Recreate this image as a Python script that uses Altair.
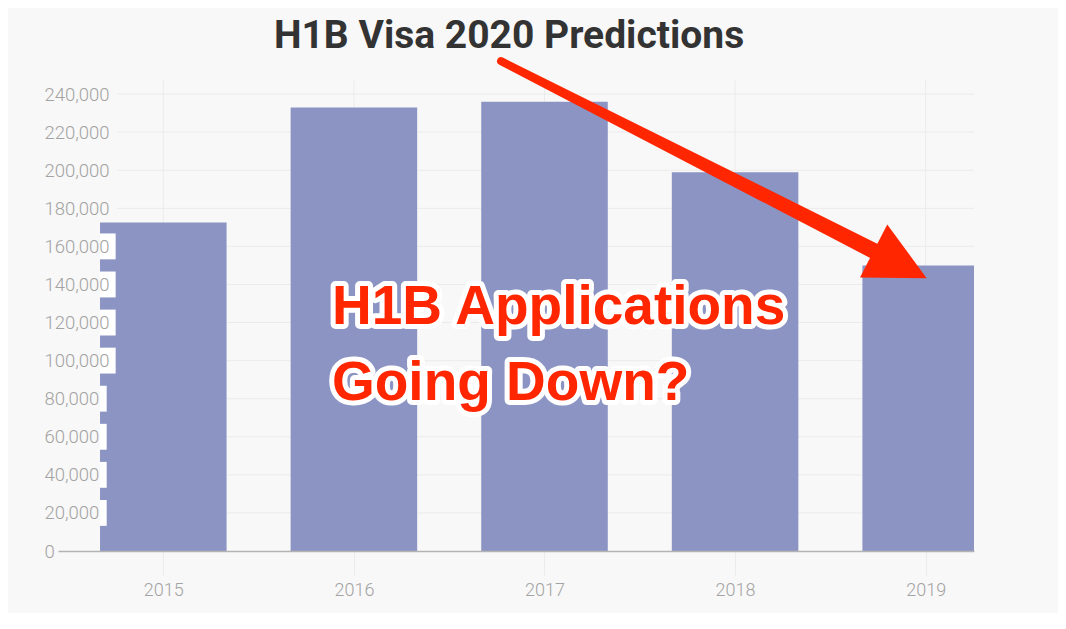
import altair as alt
import pandas as pd

# ---- data ----
years = [2015, 2016, 2017, 2018, 2019]
applications = [172500, 233000, 236000, 199000, 150000]
y_ticks = [0, 20000, 40000, 60000, 80000, 100000, 120000, 140000,
           160000, 180000, 200000, 220000, 240000]
boxed_ticks = [20000, 40000, 60000, 80000, 100000, 120000, 140000, 160000]
title_text = "H1B Visa 2020 Predictions"
note_lines = ["H1B Applications", "Going Down?"]
note_values = [119200, 79300]

# ---- styling / layout ----
X_MIN, X_MAX = 2014.4475, 2019.2535
Y_MAX = 247400
HALF = 0.332
BAR = "#8c94c3"
RED = "#ff2600"
GRID = "#ebebeb"
LABEL = "#a3a3a3"

xs = alt.Scale(domain=[X_MIN, X_MAX], nice=False, zero=False)
ys = alt.Scale(domain=[0, Y_MAX], nice=False, zero=False)

x_axis = alt.Axis(
    values=years, format="d", grid=False, title=None,
    tickSize=24, tickColor=GRID, tickWidth=1,
    domainColor="#b3b3b3", domainWidth=1.5,
    labelPadding=6, labelFont="Roboto", labelFontWeight=300,
    labelFontSize=18, labelColor=LABEL, labelFlush=False,
    labelOverlap=False, zindex=1)
y_axis = alt.Axis(
    values=y_ticks, format=",d", grid=False, title=None,
    ticks=False, tickSize=0, domain=False,
    labelAlign="left", labelBaseline="middle", labelPadding=14,
    labelFont="Roboto", labelFontWeight=300, labelFontSize=18.5,
    labelColor=LABEL, labelOverlap=False, zindex=1)


def X(field):
    return alt.X(field, scale=xs, axis=x_axis)


def Y(field):
    return alt.Y(field, scale=ys, axis=y_axis)


# vertical grid lines
vgrid = alt.Chart(pd.DataFrame({"year": years, "lo": 0, "hi": Y_MAX})).mark_rule(
    color=GRID, strokeWidth=1
).encode(x=X("year:Q"), y=Y("lo:Q"), y2="hi:Q")

# horizontal grid lines (start right of the labels)
hgrid = alt.Chart(pd.DataFrame({"v": y_ticks[1:]})).transform_calculate(
    gx0="2014.757", gx1=str(X_MAX)
).mark_rule(color=GRID, strokeWidth=1).encode(
    y=Y("v:Q"), x=X("gx0:Q"), x2="gx1:Q"
)

bars = alt.Chart(pd.DataFrame({"year": years, "apps": applications})).transform_calculate(
    x0=f"datum.year - {HALF}", x1=f"datum.year + {HALF}", base="0"
).mark_bar(color=BAR, clip=True).encode(
    x=X("x0:Q"), x2="x1:Q", y=Y("apps:Q"), y2="base:Q"
)

# white boxes behind the y labels where they sit on the first bar
boxes = alt.Chart(pd.DataFrame({"v": boxed_ticks})).transform_calculate(
    xl=f"{years[0]} - {HALF}",
    xr="datum.v < 100000 ? 2014.703 : 2014.75",
    y0="datum.v - 6800", y1="datum.v + 6800",
).mark_rect(color="white").encode(
    x=X("xl:Q"), x2="xr:Q", y=Y("y0:Q"), y2="y1:Q"
)

# arrow
shaft = alt.Chart(pd.DataFrame({
    "x": [2016.772, 2018.735], "y": [257300, 157300], "w": [8, 16]
})).mark_trail(color=RED, clip=False).encode(
    x=X("x:Q"), y=Y("y:Q"),
    size=alt.Size("w:Q", scale=None, legend=None),
)
head = alt.Chart(pd.DataFrame({"x": [2018.866], "y": [150470]})).mark_point(
    shape="M-1,-1L1,0L-1,1Z", size=3552, filled=True, color=RED,
    opacity=1, angle=27.2, strokeWidth=0, clip=False
).encode(x=X("x:Q"), y=Y("y:Q"))

note_df = pd.DataFrame({"x": [2015.885] * 2, "y": note_values, "t": note_lines})
note_base = alt.Chart(note_df).encode(x=X("x:Q"), y=Y("y:Q"), text="t:N")
note_outline = note_base.mark_text(
    align="left", baseline="alphabetic", font="Liberation Sans",
    fontWeight="bold", fontSize=55, fill="white", stroke="white",
    strokeWidth=10, strokeJoin="round", clip=False
)
note_fill = note_base.mark_text(
    align="left", baseline="alphabetic", font="Liberation Sans",
    fontWeight="bold", fontSize=55, fill=RED, clip=False
)

# chart title, placed above the plot
title = alt.Chart(pd.DataFrame({"x": [2016.814], "y": [264200], "t": [title_text]})).mark_text(
    align="center", baseline="alphabetic", font="Roboto", fontWeight="bold",
    fontSize=39, color="#333333", clip=False
).encode(x=X("x:Q"), y=Y("y:Q"), text="t:N")

chart = alt.layer(
    vgrid, hgrid, bars, boxes, shaft, head, note_outline, note_fill, title
).properties(
    width=916, height=471,
    autosize=alt.AutoSizeParams(type="none"),
    padding={"left": 50, "top": 72, "right": 84, "bottom": 62},
).configure(
    background="#f8f8f8"
).configure_view(stroke=None)

chart.save("out.html", embed_options={"renderer": "svg", "actions": False})
